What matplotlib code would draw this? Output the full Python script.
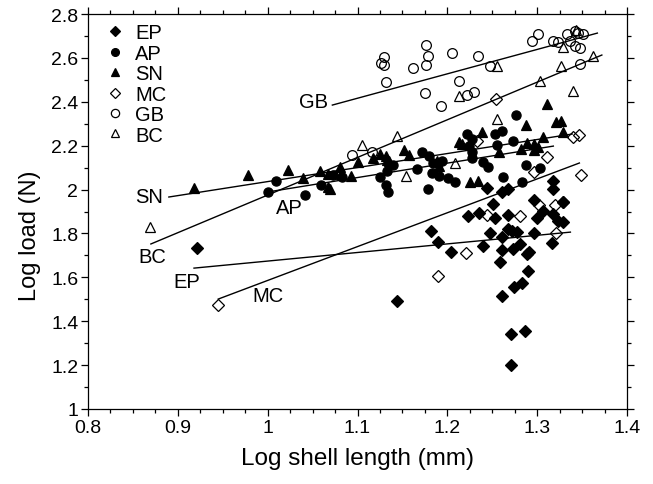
import matplotlib
matplotlib.use("Agg")
import matplotlib.pyplot as plt
from matplotlib.ticker import MultipleLocator, FuncFormatter

plt.rcParams['font.family'] = ['Liberation Sans', 'DejaVu Sans']

# ---- data: log shell length (x) and log load (y) per species ----
ep_x = [0.921, 1.144, 1.182, 1.190, 1.204, 1.223, 1.235, 1.240, 1.244, 1.248, 1.251, 1.253,
        1.259, 1.261, 1.261, 1.261, 1.261, 1.267, 1.267, 1.267, 1.271, 1.271, 1.272, 1.273,
        1.274, 1.278, 1.281, 1.283, 1.286, 1.289, 1.291, 1.290, 1.296, 1.297, 1.300, 1.307,
        1.317, 1.318, 1.318, 1.318, 1.329, 1.329, 1.323]
ep_y = [1.733, 1.492, 1.811, 1.761, 1.715, 1.879, 1.893, 1.743, 2.007, 1.802, 1.934, 1.870,
        1.670, 1.989, 1.784, 1.724, 1.515, 2.002, 1.884, 1.820, 1.341, 1.200, 1.811, 1.729,
        1.556, 1.806, 1.752, 1.574, 1.355, 1.706, 1.715, 1.629, 1.952, 1.802, 1.870, 1.902,
        1.756, 2.039, 2.002, 1.888, 1.943, 1.852, 1.857]

ap_x = [1.000, 1.009, 1.042, 1.059, 1.073, 1.083, 1.125, 1.132, 1.134, 1.133, 1.140, 1.166,
        1.172, 1.180, 1.178, 1.184, 1.194, 1.183, 1.191, 1.201, 1.208, 1.222, 1.228, 1.224,
        1.228, 1.227, 1.240, 1.245, 1.253, 1.261, 1.255, 1.273, 1.276, 1.288, 1.303, 1.262,
        1.283]
ap_y = [1.989, 2.039, 1.975, 2.021, 2.066, 2.057, 2.057, 2.021, 1.989, 2.084, 2.112, 2.094,
        2.171, 2.153, 2.002, 2.121, 2.130, 2.075, 2.062, 2.053, 2.034, 2.253, 2.230, 2.198,
        2.171, 2.144, 2.125, 2.103, 2.253, 2.267, 2.203, 2.221, 2.340, 2.112, 2.098, 2.057,
        2.034]

sn_x = [0.918, 0.978, 1.023, 1.039, 1.058, 1.067, 1.069, 1.067, 1.081, 1.093, 1.082, 1.100,
        1.117, 1.125, 1.133, 1.132, 1.135, 1.152, 1.157, 1.188, 1.191, 1.213, 1.216, 1.225,
        1.234, 1.239, 1.257, 1.282, 1.289, 1.296, 1.296, 1.301, 1.306, 1.288, 1.321, 1.326,
        1.329, 1.311]
sn_y = [2.007, 2.066, 2.089, 2.053, 2.084, 2.011, 2.002, 2.071, 2.103, 2.062, 2.071, 2.125,
        2.144, 2.162, 2.135, 2.153, 2.130, 2.180, 2.157, 2.130, 2.107, 2.217, 2.207, 2.034,
        2.039, 2.262, 2.171, 2.185, 2.212, 2.207, 2.180, 2.194, 2.239, 2.294, 2.308, 2.312,
        2.262, 2.390]

mc_x = [0.945, 1.190, 1.221, 1.233, 1.244, 1.254, 1.281, 1.296, 1.302, 1.311, 1.320, 1.321,
        1.340, 1.347, 1.349, 1.329]
mc_y = [1.474, 1.606, 1.711, 2.221, 1.884, 2.413, 1.879, 2.080, 1.929, 2.148, 1.929, 1.802,
        2.239, 2.248, 2.066, 1.943]

gb_x = [1.094, 1.116, 1.126, 1.129, 1.130, 1.132, 1.162, 1.176, 1.178, 1.176, 1.175, 1.193,
        1.205, 1.213, 1.222, 1.230, 1.234, 1.248, 1.294, 1.301, 1.318, 1.323, 1.333, 1.337,
        1.342, 1.345, 1.351, 1.342, 1.348, 1.348]
gb_y = [2.157, 2.171, 2.577, 2.604, 2.568, 2.490, 2.554, 2.659, 2.609, 2.568, 2.440, 2.381,
        2.622, 2.495, 2.431, 2.444, 2.609, 2.563, 2.677, 2.709, 2.677, 2.672, 2.709, 2.677,
        2.723, 2.713, 2.709, 2.654, 2.645, 2.572]

bc_x = [0.869, 1.105, 1.144, 1.154, 1.209, 1.213, 1.255, 1.255, 1.303, 1.326, 1.329, 1.343,
        1.340, 1.362]
bc_y = [1.829, 2.203, 2.244, 2.062, 2.121, 2.426, 2.563, 2.321, 2.495, 2.563, 2.650, 2.727,
        2.449, 2.609]

species = ['EP', 'AP', 'SN', 'MC', 'GB', 'BC']

# regression lines (start / end points) per species, same order
fit_x0 = [0.918, 1.000, 0.890, 0.945, 1.072, 0.870]
fit_y0 = [1.642, 1.989, 1.966, 1.501, 2.385, 1.752]
fit_x1 = [1.337, 1.318, 1.339, 1.347, 1.367, 1.372]
fit_y1 = [1.806, 2.198, 2.253, 2.121, 2.713, 2.613]

# ---- figure ----
fig = plt.figure(figsize=(6.53, 4.85), dpi=100)
ax = fig.add_axes([88/653, 1-410/485, (627-88)/653, (410-15)/485])

xs = [ep_x, ap_x, sn_x, mc_x, gb_x, bc_x]
ys = [ep_y, ap_y, sn_y, mc_y, gb_y, bc_y]
markers = ['D', 'o', '^', 'D', 'o', '^']
filled = [True, True, True, False, False, False]
sizes = [6.0, 6.6, 7.4, 6.0, 7.0, 7.6]

for i in range(6):
    ax.plot([fit_x0[i], fit_x1[i]], [fit_y0[i], fit_y1[i]], color='black', lw=1.0, zorder=2)

handles = []
for i in range(6):
    h, = ax.plot(xs[i], ys[i], linestyle='none', marker=markers[i], ms=sizes[i],
                 mfc='black' if filled[i] else 'none', mec='black', mew=0.9,
                 label=species[i], zorder=3)
    handles.append(h)

# line labels
lab_fs = 14.5
ax.text(1.051, 2.399, 'GB', fontsize=lab_fs, ha='center', va='center')
ax.text(0.868, 1.970, 'SN', fontsize=lab_fs, ha='center', va='center')
ax.text(1.024, 1.920, 'AP', fontsize=lab_fs, ha='center', va='center')
ax.text(0.872, 1.697, 'BC', fontsize=lab_fs, ha='center', va='center')
ax.text(0.910, 1.583, 'EP', fontsize=lab_fs, ha='center', va='center')
ax.text(1.000, 1.519, 'MC', fontsize=lab_fs, ha='center', va='center')

ax.set_xlim(0.8, 1.4)
ax.set_ylim(1.0, 2.8)
ax.xaxis.set_major_locator(MultipleLocator(0.1))
ax.xaxis.set_minor_locator(MultipleLocator(0.025))
ax.yaxis.set_major_locator(MultipleLocator(0.2))
ax.yaxis.set_minor_locator(MultipleLocator(0.1))
fmt = FuncFormatter(lambda v, p: f"{v:.1f}".rstrip('0').rstrip('.'))
ax.xaxis.set_major_formatter(fmt)
ax.yaxis.set_major_formatter(fmt)

ax.tick_params(which='both', direction='out', top=True, right=True,
               labeltop=False, labelright=False, width=0.9, labelsize=14, pad=2)
ax.tick_params(which='major', length=5)
ax.tick_params(which='minor', length=3)
for s in ax.spines.values():
    s.set_linewidth(0.9)

ax.set_xlabel('Log shell length (mm)', fontsize=17.5, labelpad=8)
ax.set_ylabel('Log load (N)', fontsize=17)
ax.yaxis.set_label_coords(-0.088, 0.44)

leg = ax.legend(handles=handles, loc='upper left', frameon=False, fontsize=14.5,
                markerscale=0.85, handlelength=0.8, handletextpad=0.6,
                labelspacing=0.07, borderaxespad=0.0, borderpad=0.0,
                bbox_to_anchor=(0.035, 0.976))

fig.savefig('out.png', dpi=100)
